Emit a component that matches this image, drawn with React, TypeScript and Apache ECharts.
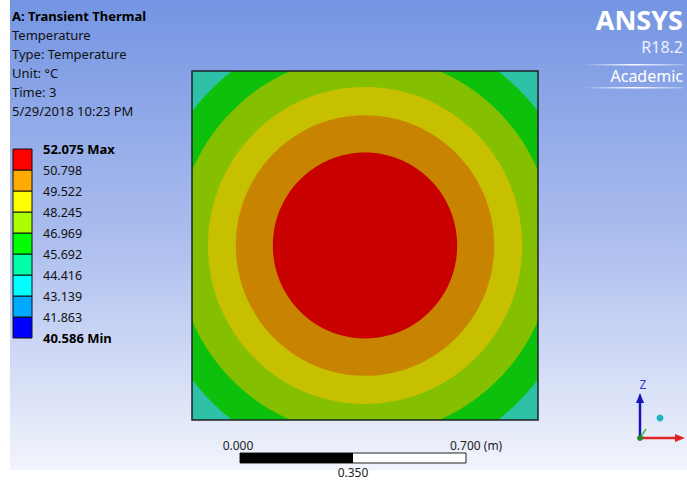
import React, { useEffect, useRef } from 'react';
import * as echarts from 'echarts';

// ---------- data ----------
const infoTitle = 'A: Transient Thermal';
const infoLines = ['Temperature', 'Type: Temperature', 'Unit: °C', 'Time: 3', '5/29/2018 10:23 PM'];

// legend boundaries, bottom to top (°C)
const legendValues = [40.586, 41.863, 43.139, 44.416, 45.692, 46.969, 48.245, 49.522, 50.798, 52.075];
const legendColors = ['#0000ff', '#00aaff', '#00ffff', '#00ffaa', '#00ff00', '#aaff00', '#ffff00', '#ffaa00', '#ff0000'];

// contour bands on the plate: outer radius (m) of each band, outside to inside
const contourRadii = [0.8, 0.672, 0.58, 0.484, 0.398, 0.284];
const contourColors = ['#2fc0a8', '#0cc00c', '#84c000', '#c6c000', '#c88400', '#c80000'];
const plateHalf = 0.533; // m

const scaleLabels = ['0.000', '0.350', '0.700'];

export default function App() {
  const ref = useRef<HTMLDivElement>(null);

  useEffect(() => {
    if (!ref.current) return;
    const chart = echarts.init(ref.current, undefined, { renderer: 'svg' });
    const font = 'Noto Sans';

    const bg = new echarts.graphic.LinearGradient(0, 0, 0, 1, [
      { offset: 0, color: '#7495e2' },
      { offset: 0.5, color: '#abbdee' },
      { offset: 1, color: '#f2f4fc' },
    ]);
    const fadeLine = () =>
      new echarts.graphic.LinearGradient(0, 0, 1, 0, [
        { offset: 0, color: 'rgba(255,255,255,0)' },
        { offset: 0.5, color: 'rgba(255,255,255,0.95)' },
        { offset: 1, color: 'rgba(255,255,255,0.2)' },
      ]);

    const graphics: any[] = [
      { type: 'rect', z: -100, silent: true, shape: { x: 10, y: 0, width: 677, height: 470 }, style: { fill: bg } },
      {
        type: 'text', x: 12, y: 16,
        style: { text: infoTitle, font: `bold 13px "${font}"`, fill: '#000', verticalAlign: 'middle', lineHeight: 16 },
      },
      ...infoLines.map((t, i) => ({
        type: 'text', x: 12, y: 35 + i * 19,
        style: { text: t, font: `13px "${font}"`, fill: '#111', verticalAlign: 'middle', lineHeight: 16 },
      })),
      // ANSYS logo
      { type: 'text', x: 683, y: 19, style: { text: 'ANSYS', font: `bold 27px "${font}"`, fill: '#ffffff', align: 'right', verticalAlign: 'middle', lineHeight: 24 } },
      { type: 'text', x: 683, y: 47, style: { text: 'R18.2', font: `16px "${font}"`, fill: '#eef2fb', align: 'right', verticalAlign: 'middle', lineHeight: 16 } },
      { type: 'rect', shape: { x: 583, y: 64, width: 101, height: 1.5 }, style: { fill: fadeLine() } },
      { type: 'text', x: 683, y: 76, style: { text: 'Academic', font: `16px "${font}"`, fill: '#ffffff', align: 'right', verticalAlign: 'middle', lineHeight: 18 } },
      { type: 'rect', shape: { x: 583, y: 87, width: 101, height: 1.5 }, style: { fill: fadeLine() } },
      // plate border
      { type: 'rect', z: 100, shape: { x: 192, y: 71, width: 346, height: 349 }, style: { fill: 'none', stroke: '#1c2226', lineWidth: 1.5 } },
      // scale bar
      { type: 'text', x: 238, y: 445, style: { text: scaleLabels[0], font: `12px "${font}"`, fill: '#222', align: 'center', verticalAlign: 'middle' } },
      { type: 'text', x: 450, y: 445, style: { text: scaleLabels[2] + ' (m)', font: `12px "${font}"`, fill: '#222', align: 'left', verticalAlign: 'middle' } },
      { type: 'text', x: 353, y: 472, style: { text: scaleLabels[1], font: `12px "${font}"`, fill: '#222', align: 'center', verticalAlign: 'middle' } },
      { type: 'rect', shape: { x: 240, y: 453, width: 226, height: 10 }, style: { fill: '#ffffff', stroke: '#222', lineWidth: 1 } },
      { type: 'rect', shape: { x: 240, y: 453, width: 113, height: 10 }, style: { fill: '#000000' } },
      // triad
      { type: 'text', x: 643, y: 384, style: { text: 'Z', font: `12px "${font}"`, fill: '#3838d8', align: 'center', verticalAlign: 'middle' } },
      { type: 'line', shape: { x1: 640, y1: 438, x2: 640, y2: 400 }, style: { stroke: '#1414c0', lineWidth: 2.5 } },
      { type: 'polygon', shape: { points: [[636, 403], [644, 403], [640, 393]] }, style: { fill: '#1414c0' } },
      { type: 'line', shape: { x1: 640, y1: 438, x2: 677, y2: 438 }, style: { stroke: '#e02424', lineWidth: 2.5 } },
      { type: 'polygon', shape: { points: [[675, 434], [675, 442], [685, 438]] }, style: { fill: '#e02424' } },
      { type: 'line', shape: { x1: 640, y1: 438, x2: 646, y2: 429 }, style: { stroke: '#3cc03c', lineWidth: 1.5 } },
      { type: 'circle', shape: { cx: 640, cy: 438, r: 3 }, style: { fill: '#1e8a2a' } },
      { type: 'circle', shape: { cx: 660, cy: 418, r: 3.5 }, style: { fill: '#1fb4c4' } },
    ];

    chart.setOption({
      animation: false,
      textStyle: { fontFamily: font },
      grid: [
        { left: 192, top: 71, width: 346, height: 349 },
        { left: 13, top: 149, width: 19, height: 189 },
      ],
      xAxis: [
        { gridIndex: 0, type: 'value', min: -plateHalf, max: plateHalf, show: false },
        { gridIndex: 1, type: 'value', min: 0, max: 1, show: false },
      ],
      yAxis: [
        { gridIndex: 0, type: 'value', min: -plateHalf, max: plateHalf, show: false },
        {
          gridIndex: 1, type: 'value', min: 0, max: legendColors.length, interval: 1, position: 'right',
          axisLine: { show: false }, axisTick: { show: false }, splitLine: { show: false },
          axisLabel: {
            margin: 11, color: '#111', fontSize: 12.5, fontFamily: font,
            formatter: (v: number) => {
              const i = Math.round(v);
              const t = legendValues[i].toFixed(3);
              if (i === legendValues.length - 1) return `{b|${t} Max}`;
              if (i === 0) return `{b|${t} Min}`;
              return t;
            },
            rich: { b: { fontWeight: 'bold', fontSize: 13, color: '#000', fontFamily: font } },
          },
        },
      ],
      series: [
        {
          type: 'custom', xAxisIndex: 0, yAxisIndex: 0, clip: true, silent: true,
          data: contourRadii.map((r, i) => [0, 0, r, i]),
          encode: { x: 0, y: 1 },
          renderItem: (params: any, api: any) => {
            const c = api.coord([api.value(0), api.value(1)]);
            const s = api.size([api.value(2), api.value(2)]);
            return {
              type: 'ellipse',
              shape: { cx: c[0], cy: c[1], rx: s[0], ry: s[1] },
              style: { fill: contourColors[api.value(3)] },
            };
          },
        },
        {
          type: 'custom', xAxisIndex: 1, yAxisIndex: 1, silent: true,
          data: legendColors.map((c, i) => [0, i]),
          encode: { x: 0, y: 1 },
          renderItem: (params: any, api: any) => {
            const i = api.value(1);
            const p0 = api.coord([0, i + 1]);
            const p1 = api.coord([1, i]);
            return {
              type: 'rect',
              shape: { x: p0[0], y: p0[1], width: p1[0] - p0[0], height: p1[1] - p0[1] },
              style: { fill: legendColors[i], stroke: '#111', lineWidth: 1 },
            };
          },
        },
      ],
      graphic: graphics,
    });

    return () => chart.dispose();
  }, []);

  return <div ref={ref} style={{ position: 'fixed', left: 0, top: 0, width: 687, height: 481, background: '#fff' }} />;
}
